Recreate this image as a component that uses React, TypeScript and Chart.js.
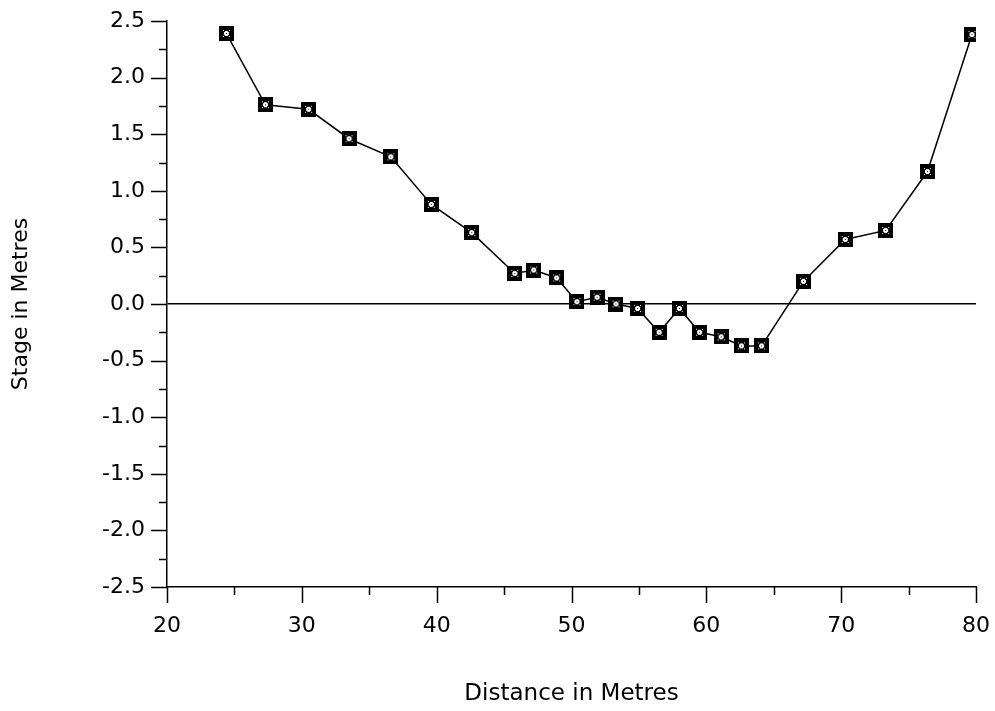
import React, { useEffect, useRef } from "react";
import { Chart, registerables } from "chart.js";

Chart.register(...registerables);

const distance = [24.4, 27.3, 30.5, 33.5, 36.6, 39.6, 42.6, 45.8, 47.2, 48.9, 50.4, 51.9, 53.3, 54.9, 56.5, 58.0, 59.5, 61.1, 62.6, 64.1, 67.2, 70.3, 73.3, 76.4, 79.7];
const stage = [2.39, 1.76, 1.72, 1.46, 1.30, 0.88, 0.63, 0.27, 0.30, 0.23, 0.02, 0.06, 0.00, -0.04, -0.25, -0.04, -0.25, -0.29, -0.37, -0.37, 0.20, 0.57, 0.65, 1.17, 2.38];

const xTitle = "Distance in Metres";
const yTitle = "Stage in Metres";
const xMin = 20, xMax = 80, xMinorStep = 5;
const yMin = -2.5, yMax = 2.5, yMinorStep = 0.25;

const FONT = "'DejaVu Sans', sans-serif";

function makeMarker(): HTMLCanvasElement {
  const c = document.createElement("canvas");
  c.width = 15; c.height = 15;
  const g = c.getContext("2d")!;
  g.fillStyle = "#000";
  g.fillRect(0, 0, 15, 15);
  g.fillStyle = "#fff";
  g.fillRect(4, 4, 1, 1); g.fillRect(10, 4, 1, 1);
  g.fillRect(4, 10, 1, 1); g.fillRect(10, 10, 1, 1);
  g.fillRect(6, 5, 3, 5); g.fillRect(5, 6, 5, 3);
  g.fillStyle = "#000";
  g.fillRect(7, 7, 1, 1);
  return c;
}

const tickMarks = {
  id: "tickMarks",
  afterDraw(chart: any) {
    const { ctx, chartArea, scales } = chart;
    const xs = scales.x, ys = scales.y;
    ctx.save();
    ctx.strokeStyle = "#000";
    ctx.lineWidth = 1.5;
    ctx.beginPath();
    const ny = Math.round((yMax - yMin) / yMinorStep);
    for (let i = 0; i <= ny; i++) {
      const v = yMin + i * yMinorStep;
      const major = i % 2 === 0;
      const py = Math.round(ys.getPixelForValue(v)) + 0.5;
      ctx.moveTo(chartArea.left - (major ? 16 : 8), py);
      ctx.lineTo(chartArea.left, py);
    }
    const nx = Math.round((xMax - xMin) / xMinorStep);
    for (let i = 0; i <= nx; i++) {
      const v = xMin + i * xMinorStep;
      const major = i % 2 === 0;
      const px = Math.round(xs.getPixelForValue(v)) + 0.5;
      ctx.moveTo(px, chartArea.bottom);
      ctx.lineTo(px, chartArea.bottom + (major ? 16 : 8));
    }
    ctx.stroke();
    ctx.restore();
  },
};

export default function App() {
  const ref = useRef<HTMLCanvasElement>(null);
  useEffect(() => {
    const marker = makeMarker();
    const chart = new Chart(ref.current!, {
      type: "scatter",
      data: {
        datasets: [
          {
            data: distance.map((d, i) => ({ x: d, y: stage[i] })),
            showLine: true,
            borderColor: "#000",
            borderWidth: 1.5,
            pointStyle: marker as any,
            pointRadius: 7,
            backgroundColor: "#000",
          },
        ],
      },
      options: {
        animation: false,
        responsive: false,
        layout: { padding: { top: 21, right: 19, left: 0, bottom: 0 } },
        plugins: { legend: { display: false }, tooltip: { enabled: false } },
        scales: {
          x: {
            type: "linear",
            min: xMin,
            max: xMax,
            afterFit: (s: any) => { s.height = 124; s.paddingLeft = 0; s.paddingRight = 0; },
            grid: { display: false, drawTicks: false },
            border: { display: true, color: "#000", width: 1.5 },
            ticks: {
              stepSize: 10,
              padding: 26,
              color: "#000",
              font: { family: FONT, size: 22 },
              maxRotation: 0,
              autoSkip: false,
            },
            title: {
              display: true,
              text: xTitle,
              color: "#000",
              font: { family: FONT, size: 23 },
              padding: { top: 3, bottom: 3 },
            },
          },
          y: {
            type: "linear",
            min: yMin,
            max: yMax,
            afterFit: (s: any) => { s.width = 167; s.paddingTop = 0; s.paddingBottom = 0; },
            grid: {
              display: true,
              drawTicks: false,
              drawOnChartArea: true,
              color: (c: any) => (c.tick && Math.abs(c.tick.value) < 1e-9 ? "#000" : "rgba(0,0,0,0)"),
              lineWidth: 1.5,
            },
            border: { display: true, color: "#000", width: 1.5 },
            ticks: {
              stepSize: 0.5,
              padding: 22,
              color: "#000",
              font: { family: FONT, size: 22 },
              autoSkip: false,
              callback: (v: any) => Number(v).toFixed(1),
            },
            title: {
              display: true,
              text: yTitle,
              color: "#000",
              font: { family: FONT, size: 22 },
              padding: { top: 8, bottom: 8 },
            },
          },
        },
      },
      plugins: [tickMarks],
    });
    return () => chart.destroy();
  }, []);
  return (
    <div style={{ position: "absolute", left: 0, top: 0, width: 995, height: 711, background: "#fff" }}>
      <canvas ref={ref} width={995} height={711} />
    </div>
  );
}
